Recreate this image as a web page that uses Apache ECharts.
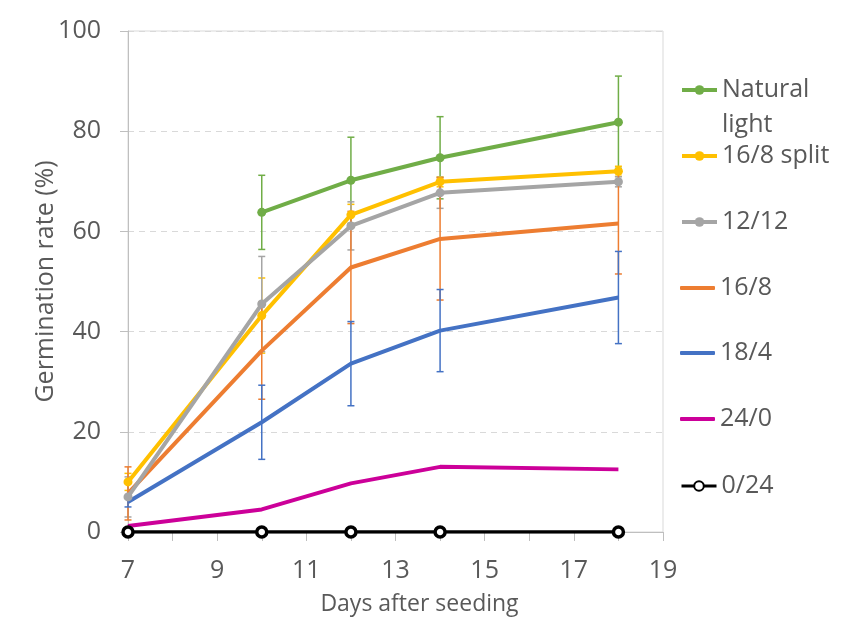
<!DOCTYPE html>
<html><head><meta charset="utf-8">
<script src="https://cdn.jsdelivr.net/npm/echarts@6/dist/echarts.min.js"></script>
<style>html,body{margin:0;padding:0;background:#fff}#c{width:858px;height:617px}</style>
</head><body><div id="c"></div>
<script>
// ---- data ----
const days = [7, 10, 12, 14, 18];
const xTickLabels = [7, 9, 11, 13, 15, 17, 19];
const yTickLabels = [0, 20, 40, 60, 80, 100];
const seriesNames = ['Natural light', '16/8 split', '12/12', '16/8', '18/4', '24/0', '0/24'];
const naturalLight    = [null, 63.8, 70.2, 74.7, 81.8];
const naturalLightErr = [null, 7.4, 8.6, 8.2, 9.2];
const split168        = [10.0, 43.2, 63.3, 69.9, 72.0];
const split168Err     = [1.7, 7.5, 2.1, 1.0, 1.0];
const p1212           = [7.0, 45.5, 61.1, 67.7, 69.9];
const p1212Err        = [4.0, 9.5, 4.8, 3.1, 1.0];
const p168            = [7.7, 36.2, 52.8, 58.5, 61.6];
const p168Err         = [5.3, 9.7, 11.2, 12.2, 10.1];
const p184            = [6.0, 21.9, 33.6, 40.2, 46.8];
const p184Err         = [1.0, 7.4, 8.4, 8.2, 9.2];
const p240            = [1.2, 4.5, 9.7, 13.0, 12.5];
const p024            = [0, 0, 0, 0, 0];

// ---- styling ----
const FONT = 'Open Sans';
const TXT = '#595959';
const colors = {
  'Natural light': '#70AD47', '16/8 split': '#FFC000', '12/12': '#A5A5A5',
  '16/8': '#ED7D31', '18/4': '#4472C4', '24/0': '#CC0099', '0/24': '#000000'
};
const valuesByName = {
  'Natural light': naturalLight, '16/8 split': split168, '12/12': p1212,
  '16/8': p168, '18/4': p184, '24/0': p240, '0/24': p024
};
const errByName = {
  'Natural light': naturalLightErr, '16/8 split': split168Err, '12/12': p1212Err,
  '16/8': p168Err, '18/4': p184Err
};
const withMarker = {'Natural light': true, '16/8 split': true, '12/12': true, '0/24': true};

function pairs(vals) {
  return days.map((d, i) => [d, vals[i]]).filter(p => p[1] != null);
}

const drawOrder = ['0/24', '24/0', '18/4', '16/8', '16/8 split', '12/12', 'Natural light'];
const series = [];

// error bars (custom series, drawn beneath lines)
Object.keys(errByName).forEach(name => {
  const v = valuesByName[name], e = errByName[name], col = colors[name];
  const data = days.map((d, i) => v[i] == null ? null : [d, v[i] - e[i], v[i] + e[i]]).filter(r => r);
  series.push({
    type: 'custom', name: name + ' err', z: 2, silent: true,
    encode: {x: 0, y: [1, 2]},
    data: data,
    renderItem: function (params, api) {
      const x = api.value(0);
      const lo = api.coord([x, api.value(1)]);
      const hi = api.coord([x, api.value(2)]);
      const w = 3.5;
      const st = {stroke: col, lineWidth: 1.5};
      return {type: 'group', children: [
        {type: 'line', shape: {x1: lo[0], y1: lo[1], x2: hi[0], y2: hi[1]}, style: st},
        {type: 'line', shape: {x1: lo[0] - w, y1: lo[1], x2: lo[0] + w, y2: lo[1]}, style: st},
        {type: 'line', shape: {x1: hi[0] - w, y1: hi[1], x2: hi[0] + w, y2: hi[1]}, style: st}
      ]};
    }
  });
});

drawOrder.forEach(name => {
  const col = colors[name];
  const isBlack = name === '0/24';
  series.push({
    type: 'line', name: name, z: 3,
    data: pairs(valuesByName[name]),
    symbol: withMarker[name] ? 'circle' : 'none',
    symbolSize: isBlack ? 10 : 9,
    color: col,
    lineStyle: {color: col, width: isBlack ? 3.5 : 4},
    itemStyle: isBlack ? {color: '#ffffff', borderColor: '#000000', borderWidth: 3.5} : {color: col},
    emphasis: {disabled: true}
  });
});

const legendCenters = [90, 156, 222, 288, 353, 419, 486];
const legends = seriesNames.map((name, i) => {
  const multi = name === 'Natural light';
  const lg = {
    data: [name], orient: 'vertical', left: 680,
    top: multi ? legendCenters[i] - 52.5 : legendCenters[i] - 15,
    padding: 0, itemWidth: 35, itemHeight: 12, itemGap: 0, selectedMode: false,
    formatter: multi ? '\nNatural\nlight' : '{name}',
    lineStyle: {width: name === '0/24' ? 3 : 4},
    textStyle: multi
      ? {fontFamily: FONT, fontSize: 25, color: TXT, lineHeight: 35}
      : {fontFamily: FONT, fontSize: 25, color: TXT, lineHeight: 30}
  };
  if (!withMarker[name]) {
    lg.icon = 'roundRect';
    lg.itemHeight = 4;
    lg.top = legendCenters[i] - 15;
  }
  return lg;
});

const chart = echarts.init(document.getElementById('c'), null, {renderer: 'canvas'});
chart.setOption({
  animation: false,
  backgroundColor: '#ffffff',
  grid: {left: 128, right: 195, top: 31, bottom: 85, show: true, borderColor: '#d9d9d9', borderWidth: 1,
         containLabel: false, outerBoundsMode: 'none'},
  legend: legends,
  xAxis: {
    type: 'value', min: 7, max: 19, interval: 1,
    name: 'Days after seeding', nameLocation: 'middle', nameGap: 61, nameMoveOverlap: false,
    nameTextStyle: {fontFamily: FONT, fontSize: 23, color: TXT, padding: [0, 0, 0, 48]},
    axisLine: {show: true, lineStyle: {color: '#bfbfbf', width: 1}},
    axisTick: {show: true, length: 9, lineStyle: {color: '#bfbfbf'}},
    axisLabel: {
      fontFamily: FONT, fontSize: 25, color: TXT, margin: 26,
      formatter: v => xTickLabels.includes(v) ? String(v) : ''
    },
    splitLine: {show: false}
  },
  yAxis: {
    type: 'value', min: 0, max: 100, interval: 20,
    name: 'Germination rate (%)', nameLocation: 'middle', nameGap: 70, nameMoveOverlap: false,
    nameTextStyle: {fontFamily: FONT, fontSize: 25, color: TXT},
    axisLine: {show: true, lineStyle: {color: '#bfbfbf', width: 1}},
    axisTick: {show: true, length: 8, lineStyle: {color: '#bfbfbf'}},
    axisLabel: {
      fontFamily: FONT, fontSize: 25, color: TXT, margin: 27,
      formatter: v => yTickLabels.includes(v) ? String(v) : ''
    },
    splitLine: {show: true, lineStyle: {color: '#d9d9d9', type: [6, 5], width: 1}}
  },
  series: series
});
</script></body></html>
